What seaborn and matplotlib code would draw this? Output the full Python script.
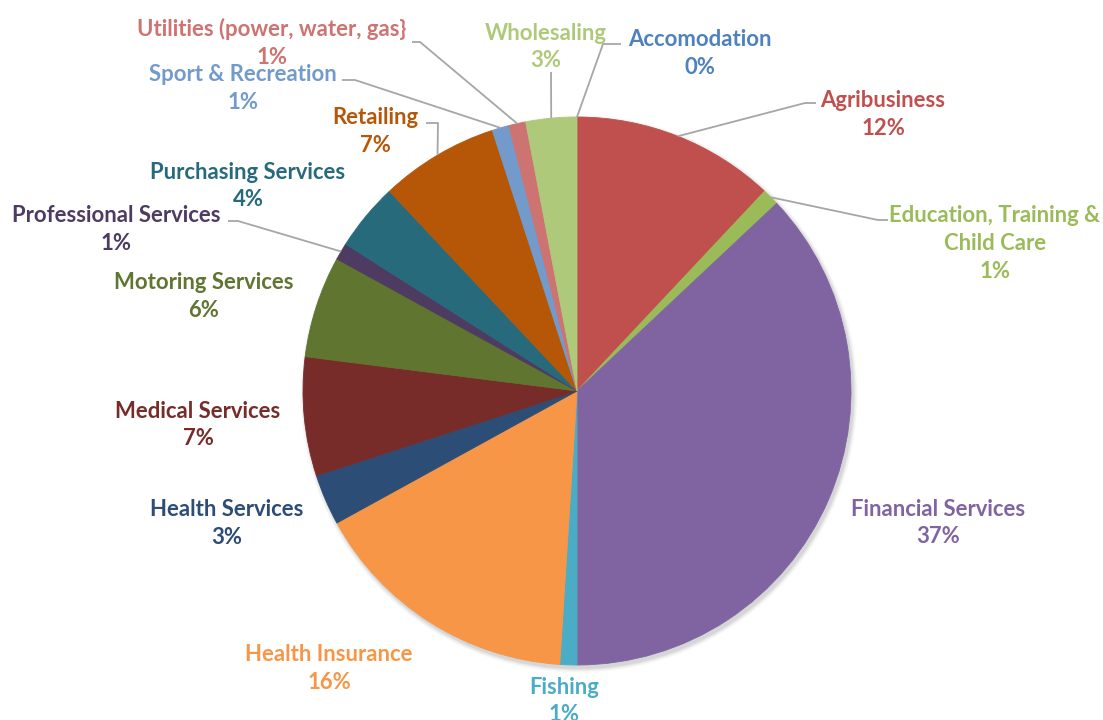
import matplotlib
matplotlib.use("Agg")
import matplotlib.pyplot as plt
import seaborn as sns
import numpy as np

sns.set_theme(style="white")
plt.rcParams['font.family'] = ['Lato', 'DejaVu Sans']

categories = ["Accomodation", "Agribusiness", "Education, Training &\nChild Care",
              "Financial Services", "Fishing", "Health Insurance", "Health Services",
              "Medical Services", "Motoring Services", "Professional Services",
              "Purchasing Services", "Retailing", "Sport & Recreation",
              "Utilities (power, water, gas}", "Wholesaling"]
values = [0, 12, 1, 37, 1, 16, 3, 7, 6, 1, 4, 7, 1, 1, 3]
pct_labels = ["0%", "12%", "1%", "37%", "1%", "16%", "3%", "7%", "6%", "1%",
              "4%", "7%", "1%", "1%", "3%"]
colors = ["#4F81BD", "#C0504D", "#9BBB59", "#8064A2", "#4BACC6", "#F79646",
          "#2C4D75", "#772C2A", "#5F7530", "#4D3B62", "#276A7C", "#B65708",
          "#729ACA", "#CD7371", "#AFC97A"]

# layout (pixel coordinates, y measured from top)
W, H = 1103, 720
CX, CY, R = 577, 391, 274
DY = 2
label_pos = {
    0: (700, 51.5), 1: (883, 112.5), 2: (995, 241.5), 3: (938, 521),
    4: (564, 699), 5: (329, 666.5), 6: (227, 521.5), 7: (198, 423),
    8: (204, 294.5), 9: (116, 227.5), 10: (248, 184), 11: (375, 129.5),
    12: (243, 86.5), 13: (272, 41), 14: (546, 45),
}
# leader line intermediate points (elbow, end)
leaders = {
    0: [(603, 44), (621, 44)],
    1: [(805, 103), (816, 103)],
    2: [(878, 220), (888, 220)],
    9: [(238, 221), (228, 221)],
    11: [(438, 123), (426, 123)],
    12: [(355, 80), (342, 80)],
    13: [(420, 42), (412, 42)],
    14: [(551, 72)],
}

fig = plt.figure(figsize=(W / 100, H / 100), dpi=100)
ax = fig.add_axes([0, 0, 1, 1])

# soft shadow
for k, a in zip(range(6, 0, -1), [0.03, 0.04, 0.05, 0.06, 0.07, 0.08]):
    ax.add_patch(plt.Circle((CX + 2, H - CY - 3), R + k * 0.8,
                            color='black', alpha=a * 0.5, lw=0, zorder=0))

wedges, _ = ax.pie(values, colors=colors, startangle=90, counterclock=False,
                   center=(CX, H - CY), radius=R, frame=True,
                   wedgeprops=dict(linewidth=0.6))
for w, c in zip(wedges, colors):
    w.set_edgecolor(c)
    w.set_zorder(2)
ax.set_xlim(0, W)
ax.set_ylim(0, H)
ax.set_aspect('equal')
ax.axis('off')

total = sum(values)
cum = np.cumsum([0] + values[:-1])
for i, (cat, p, c) in enumerate(zip(categories, pct_labels, colors)):
    lx, ly = label_pos[i]
    ax.text(lx, H - ly - DY, f"{cat}\n{p}", color=c, ha='center', va='center',
            fontsize=15.9, fontweight='bold', linespacing=1.4,
            multialignment='center', zorder=4)
    if i in leaders:
        mid = (cum[i] + values[i] / 2) / total * 2 * np.pi
        ax_x = CX + R * np.sin(mid)
        ax_y = CY - R * np.cos(mid)
        pts = [(ax_x, ax_y)] + leaders[i]
        xs = [q[0] for q in pts]
        ys = [H - q[1] for q in pts]
        ax.plot(xs, ys, color='#A6A6A6', lw=1.3, zorder=3,
                solid_capstyle='butt')

fig.savefig("out.png", dpi=100, facecolor='white')
